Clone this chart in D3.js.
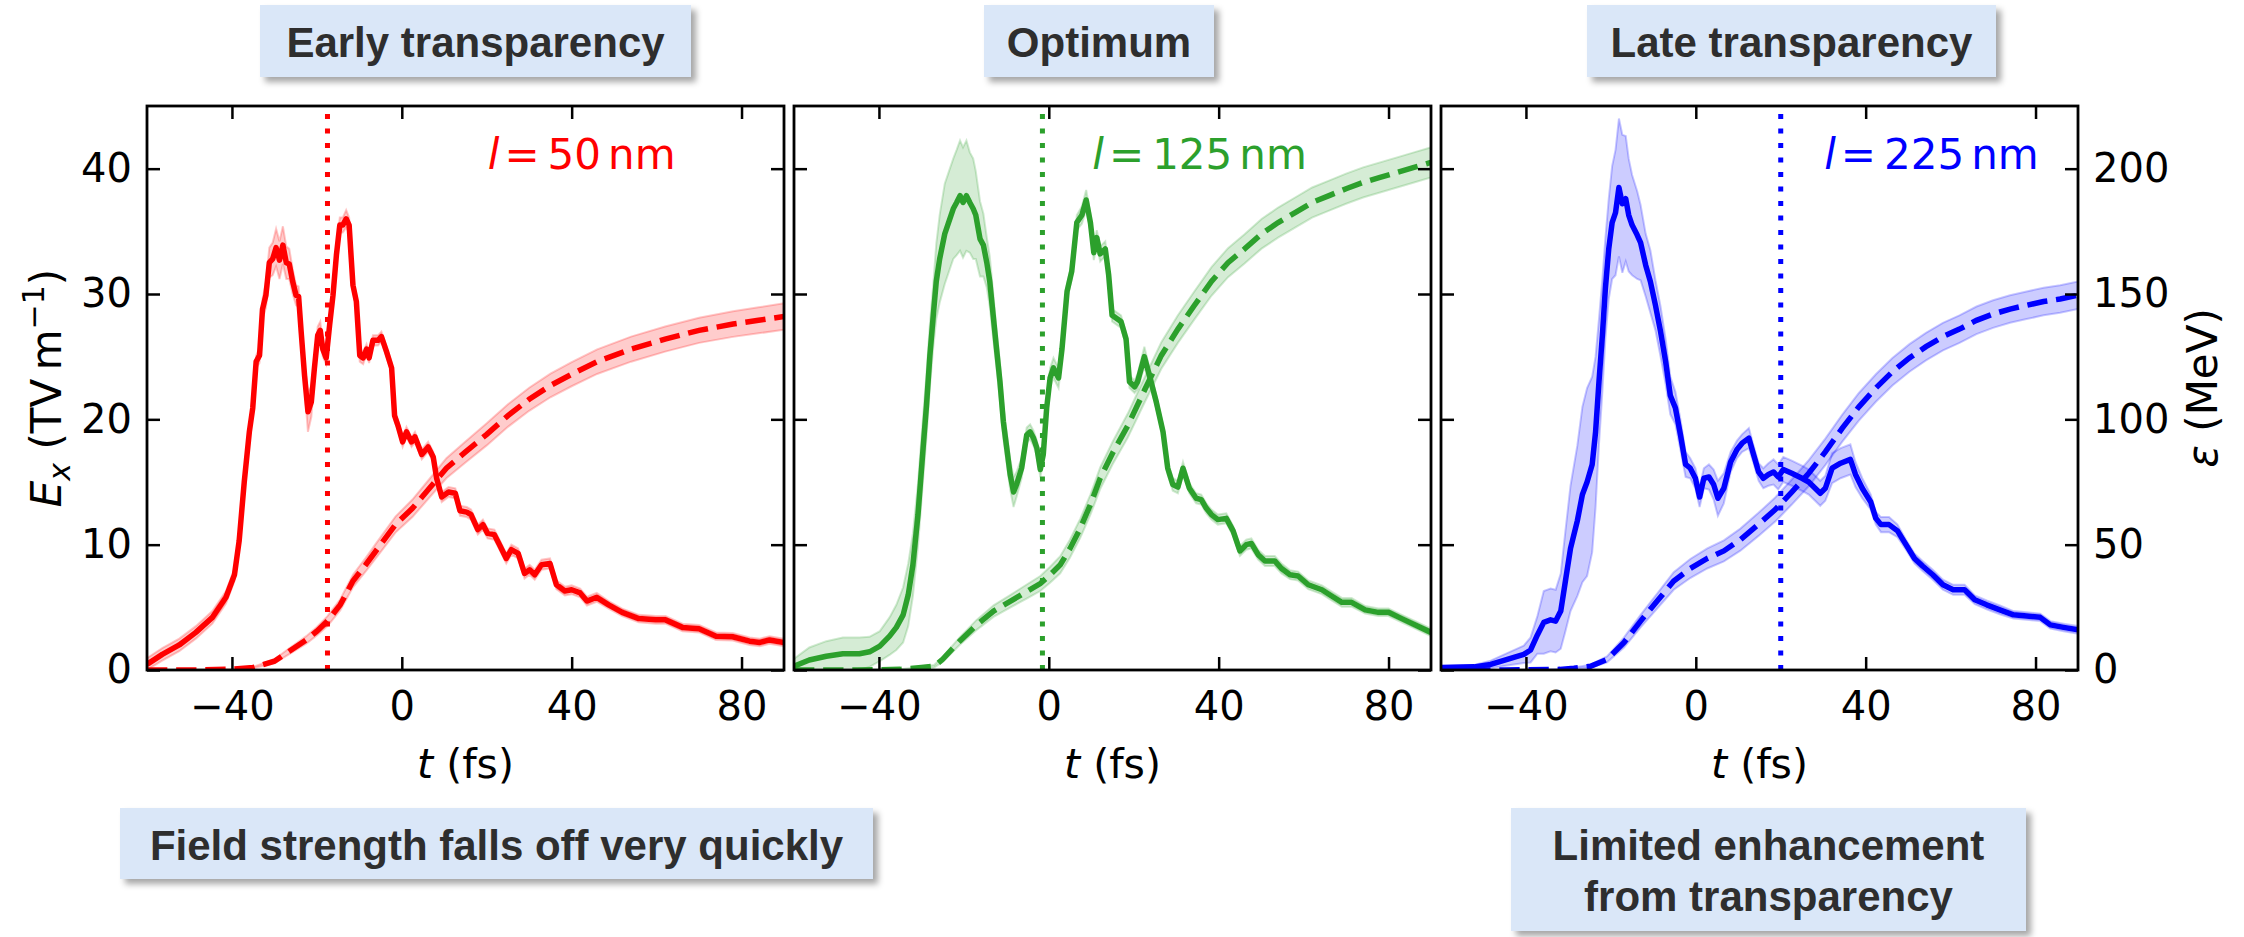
<!DOCTYPE html>
<html>
<head>
<meta charset="utf-8">
<script src="https://cdn.jsdelivr.net/npm/d3@7"></script>
<style>
    body { margin: 0; background: #fff; }
    svg { display: block; }
</style>
</head>
<body>
<svg id="chart" width="2244" height="937"></svg>
<script>
// rows are [t (fs), E_x (TV/m), half-width of shaded band]
const fieldRed = [
    [-60, 0.45, 0.5], [-56.4, 1.25, 0.5], [-52.4, 2.0, 0.5], [-48.5, 3.0, 0.5], [-44.6, 4.2, 0.5],
    [-41.4, 5.8, 0.5], [-39.4, 7.6, 0.5], [-38.3, 10.3, 0.5], [-37.1, 15, 0.5], [-35.9, 19, 0.5],
    [-35.1, 20.9, 0.5], [-34.3, 24.6, 0.5], [-33.5, 25.1, 0.6], [-32.8, 28.8, 0.8], [-32.0, 29.9, 1.0],
    [-31.2, 32.5, 1.2], [-30.4, 32.8, 1.3], [-29.6, 33.7, 1.5], [-28.8, 32.7, 1.5], [-28.0, 33.9, 1.5],
    [-27.2, 32.5, 1.3], [-26.5, 32.4, 1.2], [-25.7, 31.0, 1.0], [-24.9, 29.9, 0.8], [-24.3, 29.8, 0.8],
    [-23.7, 27.0, 0.8], [-22.9, 23.5, 1.0], [-22.1, 20.6, 1.6], [-21.3, 21.4, 1.2], [-20.6, 24.0, 0.8],
    [-19.8, 26.7, 0.7], [-19.2, 27.1, 0.7], [-18.6, 25.6, 0.6], [-17.8, 24.9, 0.5], [-17.0, 27.5, 0.5],
    [-16.2, 29.9, 0.5], [-15.4, 33.1, 0.5], [-14.6, 35.5, 0.6], [-13.9, 35.5, 0.6], [-13.1, 36.0, 0.7],
    [-12.4, 35.5, 0.6], [-11.9, 32.8, 0.5], [-11.5, 30.7, 0.5], [-10.7, 29.4, 0.5], [-9.9, 25.1, 0.5],
    [-9.1, 24.9, 0.5], [-8.3, 25.6, 0.4], [-7.7, 24.9, 0.4], [-6.8, 26.3, 0.4], [-5.6, 26.3, 0.4],
    [-4.8, 26.6, 0.4], [-3.6, 25.4, 0.4], [-2.4, 24.1, 0.4], [-1.7, 20.3, 0.4], [-0.9, 19.5, 0.4],
    [0.2, 18.2, 0.4], [1.1, 19.0, 0.4], [2.3, 18.2, 0.4], [3.1, 18.6, 0.4], [4.7, 17.2, 0.4],
    [6.2, 17.8, 0.4], [7.4, 17.0, 0.4], [8.2, 15.3, 0.4], [9.4, 13.8, 0.4], [11.0, 14.2, 0.4],
    [12.6, 14.1, 0.4], [13.7, 12.7, 0.4], [15.3, 12.6, 0.4], [16.3, 12.4, 0.4], [17.9, 11.2, 0.4],
    [19.1, 11.6, 0.4], [20.2, 10.9, 0.4], [21.8, 10.8, 0.4], [23.0, 10.0, 0.4], [24.6, 8.9, 0.4],
    [25.8, 9.6, 0.4], [27.4, 9.3, 0.4], [28.9, 7.7, 0.4], [30.1, 8.0, 0.4], [31.3, 7.6, 0.4],
    [32.9, 8.4, 0.4], [34.9, 8.5, 0.4], [36.4, 6.8, 0.35], [38.4, 6.3, 0.35], [40, 6.4, 0.35],
    [42, 6.15, 0.35], [43.6, 5.5, 0.35], [45.9, 5.8, 0.35], [48.7, 5.2, 0.3], [51.9, 4.6, 0.3],
    [55.8, 4.1, 0.3], [59.8, 4.0, 0.3], [62.1, 4.0, 0.3], [66.1, 3.4, 0.3], [70, 3.3, 0.3],
    [74, 2.7, 0.3], [77.9, 2.65, 0.3], [81.9, 2.3, 0.3], [84.3, 2.2, 0.3], [86.6, 2.4, 0.3], [90, 2.2, 0.3]
];
const fieldGreen = [
    [-60, 0.3, 0.6], [-56.4, 0.8, 1.0], [-52.4, 1.1, 1.2], [-48.5, 1.3, 1.3], [-44.6, 1.3, 1.3],
    [-42.2, 1.45, 1.2], [-39.8, 1.9, 1.2], [-37.5, 2.7, 1.5], [-35.9, 3.4, 1.8], [-34.3, 4.4, 2.2],
    [-33.1, 6.0, 2.5], [-32.0, 8.4, 2.5], [-30.8, 12.4, 2.5], [-29.6, 17.7, 2.5], [-28.8, 21.1, 2.5],
    [-28.0, 25.1, 2.5], [-27.2, 28.3, 2.5], [-26.5, 31.0, 3], [-25.7, 32.8, 3.5], [-24.5, 34.8, 4],
    [-23.7, 35.6, 4], [-22.5, 36.8, 4], [-21.7, 37.3, 4.2], [-20.9, 37.85, 4.4], [-20.2, 37.3, 4.4],
    [-19.4, 37.85, 4.4], [-18.6, 37.3, 4], [-17.8, 36.8, 4], [-17.2, 36.3, 3.5], [-16.2, 34.4, 3],
    [-15.4, 33.9, 2.5], [-14.6, 32.5, 2], [-13.9, 31.0, 2], [-13.1, 28.3, 1.8], [-12.3, 25.6, 1.5],
    [-11.5, 23.0, 1.5], [-10.7, 19.8, 1.3], [-9.9, 17.7, 1.2], [-9.1, 15.6, 1.2], [-8.3, 14.2, 1.2],
    [-7.6, 14.8, 1.0], [-6.4, 16.1, 0.8], [-5.2, 18.75, 0.6], [-4.4, 19.0, 0.6], [-3.6, 18.5, 0.6],
    [-2.8, 17.7, 0.6], [-2.0, 16.0, 0.6], [-1.3, 17.2, 0.6], [-0.5, 20.9, 0.7], [0.3, 23.3, 0.8],
    [1.1, 24.1, 0.8], [2.3, 23.3, 0.8], [3.1, 25.6, 0.7], [4.3, 30.2, 0.6], [5.4, 31.8, 0.6],
    [6.6, 35.7, 0.6], [7.8, 36.3, 0.7], [8.8, 37.5, 0.8], [9.8, 35.7, 0.7], [10.6, 33.3, 0.6],
    [11.3, 34.5, 0.6], [12.1, 33.2, 0.6], [13.3, 33.6, 0.6], [14.1, 31.5, 0.5], [14.9, 28.3, 0.5],
    [17.0, 27.8, 0.5], [18.2, 26.4, 0.5], [19.0, 23.0, 0.5], [20.2, 22.6, 0.5], [20.9, 23.0, 0.6],
    [22.5, 25.0, 0.8], [23.7, 23.5, 0.6], [25.3, 21.4, 0.5], [26.9, 19.0, 0.5], [28.0, 16.1, 0.5],
    [29.2, 14.8, 0.5], [30.4, 14.6, 0.5], [31.6, 16.1, 0.5], [33.1, 14.5, 0.4], [34.7, 13.7, 0.4],
    [35.9, 13.6, 0.4], [37.1, 12.9, 0.4], [38.3, 12.4, 0.4], [39.8, 12.0, 0.4], [41.8, 12.1, 0.4],
    [43.4, 11.1, 0.4], [45.0, 9.5, 0.4], [46.5, 10.0, 0.4], [47.7, 10.1, 0.4], [49.3, 9.2, 0.4],
    [50.9, 8.7, 0.4], [53.2, 8.7, 0.4], [54.8, 8.1, 0.4], [56.8, 7.6, 0.35], [58.7, 7.5, 0.35],
    [61.1, 6.8, 0.35], [64.3, 6.4, 0.35], [66.6, 5.9, 0.35], [69.0, 5.4, 0.35], [71.3, 5.4, 0.35],
    [74.5, 4.8, 0.3], [77.6, 4.6, 0.3], [80.0, 4.6, 0.3], [83.1, 4.1, 0.3], [86.3, 3.6, 0.3], [90, 3.0, 0.3]
];
const fieldBlue = [
    [-60, 0.2, 0.1], [-52.2, 0.25, 0.15], [-48.3, 0.45, 0.3], [-44.4, 0.85, 0.5], [-40.5, 1.25, 0.7],
    [-38.9, 1.6, 1.0], [-37.3, 2.8, 1.5], [-35.8, 3.8, 2.5], [-34.2, 4.0, 2.5], [-33.0, 3.9, 2.5],
    [-31.8, 4.7, 3], [-30.7, 7.1, 4], [-29.5, 9.7, 5], [-27.9, 11.9, 6], [-26.7, 14.0, 7],
    [-25.6, 15.0, 7.5], [-24.4, 16.4, 7], [-23.6, 19.0, 6], [-22.8, 23.0, 5], [-22.0, 26.7, 4.5],
    [-21.3, 30.4, 4], [-20.5, 33.6, 4], [-19.7, 35.7, 4.5], [-18.9, 36.5, 5], [-18.1, 38.5, 5.5],
    [-17.3, 37.2, 5.5], [-16.5, 37.6, 5], [-15.8, 36.3, 4.5], [-15.0, 35.5, 4], [-13.8, 34.7, 3.5],
    [-13.0, 34.1, 3], [-11.8, 32.3, 2.5], [-10.7, 31.0, 2.5], [-9.5, 29.1, 2], [-8.3, 27.0, 2],
    [-7.1, 24.6, 1.8], [-6.0, 21.9, 1.5], [-4.8, 20.9, 1.3], [-3.6, 18.75, 1.2], [-2.4, 16.4, 1],
    [-1.3, 16.1, 0.8], [-0.1, 15.3, 0.8], [0.9, 13.8, 0.8], [1.9, 15.3, 0.8], [3.1, 15.4, 1.0],
    [4.2, 14.8, 1.2], [5.2, 13.7, 1.4], [6.6, 14.5, 1.2], [8.2, 16.6, 0.8], [9.7, 17.6, 0.7],
    [10.9, 18.1, 0.7], [12.5, 18.5, 0.8], [13.6, 17.2, 0.7], [14.8, 15.8, 0.7], [15.9, 15.3, 0.8],
    [17.1, 15.6, 0.9], [18.3, 15.8, 1.0], [19.4, 15.4, 1.0], [20.6, 16.0, 1.0], [22.6, 15.7, 1.0],
    [25.0, 15.3, 1.0], [26.6, 15.0, 1.0], [28.1, 14.5, 1.0], [29.3, 14.1, 1.0], [30.5, 14.5, 1.0],
    [32.1, 16.1, 1.2], [34.1, 16.5, 1.2], [36.4, 16.8, 1.2], [37.6, 15.6, 1.0], [39.2, 14.5, 0.8],
    [41.2, 13.4, 0.6], [42.4, 12.1, 0.5], [43.6, 11.6, 0.6], [45.5, 11.6, 0.6], [47.5, 11.1, 0.5],
    [49.5, 10.0, 0.4], [51.5, 8.9, 0.4], [53.4, 8.3, 0.4], [55.8, 7.6, 0.4], [58.2, 6.8, 0.4],
    [60.6, 6.4, 0.4], [63.3, 6.4, 0.4], [65.7, 5.6, 0.35], [68.5, 5.2, 0.35], [71.6, 4.8, 0.35],
    [74.8, 4.4, 0.3], [77.9, 4.3, 0.3], [81.1, 4.2, 0.3], [83.5, 3.6, 0.3], [86.6, 3.4, 0.3], [90, 3.2, 0.3]
];

// rows are [t (fs), epsilon (MeV), half-width of shaded band]
const energyRed = [
    [-60, 0, 0], [-50, 0, 0], [-40, 0.3, 0.1], [-35, 1, 0.3], [-30, 3.5, 0.8], [-26.5, 7.5, 1.2],
    [-22.5, 12, 1.5], [-20, 15.5, 1.7], [-17.5, 19.5, 2], [-14.5, 26, 2.2], [-11.5, 35.5, 2.5],
    [-8.5, 42, 2.7], [-5, 50, 3], [-1.5, 58, 3.2], [2.5, 64.5, 3.5], [6.5, 72.5, 3.7], [10.5, 80.5, 4],
    [15, 87, 4.2], [20, 94, 4.4], [25, 101.5, 4.5], [30, 108, 4.6], [35, 113.5, 4.7], [40, 118, 4.8],
    [46, 123, 4.9], [54, 128, 5], [62, 132, 5], [70, 135.5, 5], [78, 138, 5.1], [84, 139.5, 5.2], [90, 141, 5.3]
];
const energyGreen = [
    [-60, 0, 0], [-45, 0, 0], [-35, 0.25, 0.1], [-30, 1, 0.3], [-27, 1.5, 0.5], [-25, 4.25, 1],
    [-21, 11.5, 1.5], [-17, 18, 2], [-13, 23.5, 2.3], [-9, 27.5, 2.5], [-5, 31.5, 2.8], [-2, 34.5, 3],
    [0.3, 38, 3.2], [2.7, 42, 3.4], [5, 48.5, 3.6], [7.4, 56.5, 3.8], [9.8, 66, 4], [12.1, 76.5, 4.3],
    [15, 86.5, 4.5], [18.6, 97.5, 4.8], [22.5, 111.5, 5], [26.5, 125.5, 5.3], [30.4, 136, 5.5],
    [34.3, 145.5, 5.6], [38.3, 155, 5.7], [42.2, 162.5, 5.8], [46.1, 168, 5.8], [50.1, 174, 5.9],
    [54, 178.5, 6], [58, 182.5, 6], [62, 186.5, 6], [66, 189.25, 6], [70, 192, 6], [74, 194.5, 6],
    [78, 196.5, 6], [82, 198.5, 6], [86, 200.5, 6], [90, 202.5, 6]
];
const energyBlue = [
    [-60, 0, 0], [-45, 0, 0], [-32, 0.25, 0.1], [-28.7, 0.75, 0.3], [-24.8, 1.5, 0.6], [-20.9, 4.25, 1.2],
    [-16.9, 11, 2], [-13, 19.5, 2.5], [-9.1, 27.5, 3], [-5.2, 35.5, 3.5], [-1.3, 40.5, 3.8], [2.7, 44.5, 4],
    [6.6, 47.5, 4.2], [10.5, 52, 4.4], [14.7, 58, 4.6], [18.7, 64, 4.8], [22.6, 71, 5], [26.6, 78.5, 5.2],
    [30.5, 87, 5.3], [34.5, 96.5, 5.4], [38.4, 105, 5.5], [42.4, 112.5, 5.5], [46.3, 119, 5.5],
    [50.3, 124.5, 5.5], [54.2, 129, 5.5], [58.2, 133, 5.5], [62.1, 136, 5.5], [66.1, 139.5, 5.5],
    [70, 142, 5.5], [74, 144, 5.5], [77.9, 145.5, 5.5], [81.9, 147, 5.5], [85.8, 148, 5.5], [90, 149.5, 5.5]
];

const thicknesses = ["50", "125", "225"];          // nm
const transparencyTimes = [-17.5, -1.5, 20];       // fs, dotted markers
const labelTimes = [20, 10, 30];                   // fs, where "l = ... nm" starts
const xTicks = [-40, 0, 40, 80];
const fieldTicks = [0, 10, 20, 30, 40];
const energyTicks = [0, 50, 100, 150, 200];
const topNotes = ["Early transparency", "Optimum", "Late transparency"];
const bottomNotes = [["Field strength falls off very quickly"], ["Limited enhancement", "from transparency"]];

const panels = [
    { color: "#ff0000", field: fieldRed, energy: energyRed },
    { color: "#2ca02c", field: fieldGreen, energy: energyGreen },
    { color: "#0000ff", field: fieldBlue, energy: energyBlue }
];

const svg = d3.select("#chart");
const mathFont = "'DejaVu Sans', sans-serif";
const boxFont = "'Liberation Sans', Arial, sans-serif";
const lw = 5.5;

const defs = svg.append("defs");
defs.append("filter")
    .attr("id", "shadow")
    .attr("x", "-10%").attr("y", "-20%").attr("width", "130%").attr("height", "160%")
    .append("feDropShadow")
    .attr("dx", 5).attr("dy", 5).attr("stdDeviation", 3)
    .attr("flood-color", "#000").attr("flood-opacity", 0.35);

const plotTop = 106, plotBottom = 670;
const panelLefts = [147, 794, 1441];
const panelWidth = 637;

const yField = d3.scaleLinear().domain([0, 45]).range([plotBottom, plotTop]);
const yEnergy = d3.scaleLinear().domain([0, 225]).range([plotBottom, plotTop]);

function styleAxis(g) {
    g.select(".domain").remove();
    g.selectAll(".tick line").attr("stroke", "#000").attr("stroke-width", 2.5);
    g.selectAll(".tick text")
        .attr("fill", "#000")
        .style("font-family", mathFont)
        .style("font-size", "40px");
}

panels.forEach((p, i) => {
    const left = panelLefts[i];
    const x = d3.scaleLinear().domain([-60, 90]).range([left, left + panelWidth]);
    const g = svg.append("g");

    const clipId = `clip-${i}`;
    defs.append("clipPath").attr("id", clipId)
        .append("rect")
        .attr("x", left).attr("y", plotTop)
        .attr("width", panelWidth).attr("height", plotBottom - plotTop);

    const plot = g.append("g").attr("clip-path", `url(#${clipId})`);

    const fieldBand = d3.area()
        .x(d => x(d[0]))
        .y0(d => yField(Math.max(0, d[1] - d[2])))
        .y1(d => yField(d[1] + d[2]));
    const energyBand = d3.area()
        .x(d => x(d[0]))
        .y0(d => yEnergy(Math.max(0, d[1] - d[2])))
        .y1(d => yEnergy(d[1] + d[2]));
    const fieldLine = d3.line().x(d => x(d[0])).y(d => yField(d[1]));
    const energyLine = d3.line().x(d => x(d[0])).y(d => yEnergy(d[1]));

    [[fieldBand, p.field], [energyBand, p.energy]].forEach(([gen, data]) => {
        plot.append("path")
            .datum(data)
            .attr("d", gen)
            .attr("fill", p.color)
            .attr("fill-opacity", 0.2)
            .attr("stroke", p.color)
            .attr("stroke-opacity", 0.22)
            .attr("stroke-width", 2);
    });

    plot.append("path")
        .datum(p.energy)
        .attr("d", energyLine)
        .attr("fill", "none")
        .attr("stroke", p.color)
        .attr("stroke-width", lw)
        .attr("stroke-dasharray", `${3.7 * lw},${1.6 * lw}`);

    plot.append("path")
        .datum(p.field)
        .attr("d", fieldLine)
        .attr("fill", "none")
        .attr("stroke", p.color)
        .attr("stroke-width", lw)
        .attr("stroke-linejoin", "round");

    plot.append("line")
        .attr("x1", x(transparencyTimes[i])).attr("x2", x(transparencyTimes[i]))
        .attr("y1", plotBottom).attr("y2", plotTop)
        .attr("stroke", p.color)
        .attr("stroke-width", 5)
        .attr("stroke-dasharray", "5,9.5");

    // thickness label, mathtext style: italic l, = , value, thin space, nm
    const lab = g.append("text")
        .attr("x", x(labelTimes[i]) + 1)
        .attr("y", yField(40))
        .attr("fill", p.color)
        .style("font-family", mathFont)
        .style("font-size", "42px");
    lab.append("tspan").style("font-style", "italic").text("l");
    lab.append("tspan").attr("dx", 5).text("=");
    lab.append("tspan").attr("dx", 8).text(thicknesses[i]);
    lab.append("tspan").attr("dx", 7).text("nm");

    // axes, ticks pointing inwards on all four sides
    g.append("g")
        .attr("transform", `translate(0,${plotBottom})`)
        .call(d3.axisBottom(x).tickValues(xTicks).tickSize(-13).tickSizeOuter(0).tickPadding(22))
        .call(styleAxis);
    g.append("g")
        .attr("transform", `translate(0,${plotTop})`)
        .call(d3.axisTop(x).tickValues(xTicks).tickSize(-13).tickSizeOuter(0).tickFormat(""))
        .call(styleAxis);
    g.append("g")
        .attr("transform", `translate(${left},0)`)
        .call(d3.axisLeft(yField).tickValues(fieldTicks).tickSize(-13).tickSizeOuter(0).tickPadding(15)
            .tickFormat(i === 0 ? d3.format("d") : ""))
        .call(styleAxis);
    g.append("g")
        .attr("transform", `translate(${left + panelWidth},0)`)
        .call(d3.axisRight(yEnergy).tickValues(energyTicks).tickSize(-13).tickSizeOuter(0).tickPadding(15)
            .tickFormat(i === 2 ? d3.format("d") : ""))
        .call(styleAxis);

    g.append("rect")
        .attr("x", left).attr("y", plotTop)
        .attr("width", panelWidth).attr("height", plotBottom - plotTop)
        .attr("fill", "none")
        .attr("stroke", "#000")
        .attr("stroke-width", 2.8);

    // x label
    const xl = g.append("text")
        .attr("x", left + panelWidth / 2)
        .attr("y", 778)
        .attr("text-anchor", "middle")
        .attr("fill", "#000")
        .style("font-family", mathFont)
        .style("font-size", "41px");
    xl.append("tspan").style("font-style", "italic").text("t");
    xl.append("tspan").text(" (fs)");
});

// left y label: E_x (TV m^-1)
const yl = svg.append("text")
    .attr("transform", `translate(61,${(plotTop + plotBottom) / 2}) rotate(-90)`)
    .attr("text-anchor", "middle")
    .attr("fill", "#000")
    .style("font-family", mathFont)
    .style("font-size", "42px");
yl.append("tspan").style("font-style", "italic").text("E");
yl.append("tspan").style("font-style", "italic").style("font-size", "30px").attr("dy", 9).text("x");
yl.append("tspan").attr("dy", -9).text(" (TV\u2009m");
yl.append("tspan").style("font-size", "30px").attr("dy", -17).text("\u22121");
yl.append("tspan").attr("dy", 17).text(")");

// right y label: epsilon (MeV)
const yr = svg.append("text")
    .attr("transform", `translate(2217,${(plotTop + plotBottom) / 2}) rotate(-90)`)
    .attr("text-anchor", "middle")
    .attr("fill", "#000")
    .style("font-family", mathFont)
    .style("font-size", "42px");
yr.append("tspan").style("font-style", "italic").text("ε");
yr.append("tspan").text(" (MeV)");

// annotation boxes
function noteBox(x0, y0, w, h, lines, baselines) {
    const g = svg.append("g");
    g.append("rect")
        .attr("x", x0).attr("y", y0).attr("width", w).attr("height", h)
        .attr("fill", "#dae7f8")
        .attr("filter", "url(#shadow)");
    lines.forEach((line, k) => {
        g.append("text")
            .attr("x", x0 + w / 2)
            .attr("y", baselines[k])
            .attr("text-anchor", "middle")
            .attr("fill", "#2e2e2e")
            .style("font-family", boxFont)
            .style("font-weight", "bold")
            .style("font-size", "42px")
            .text(line);
    });
}

noteBox(260, 5, 431, 72, [topNotes[0]], [57]);
noteBox(984, 5, 230, 72, [topNotes[1]], [57]);
noteBox(1587, 5, 409, 72, [topNotes[2]], [57]);
noteBox(120, 808, 753, 71, bottomNotes[0], [860]);
noteBox(1511, 808, 515, 123, bottomNotes[1], [860, 911]);
</script>
</body>
</html>
